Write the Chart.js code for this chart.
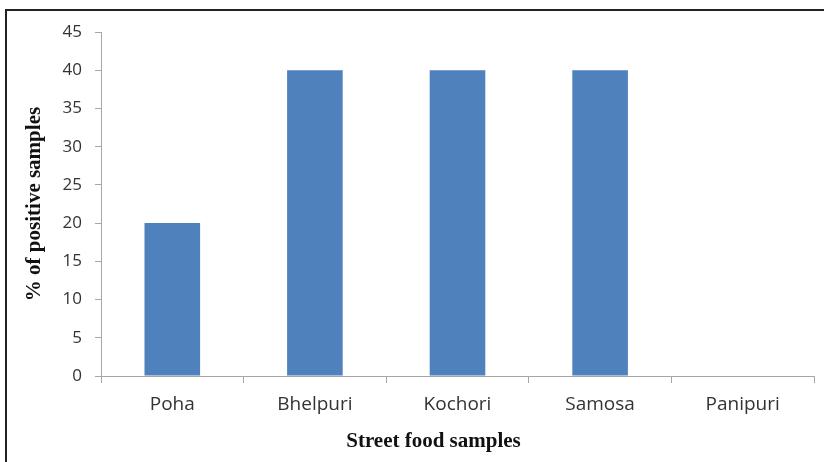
<!DOCTYPE html>
<html>
<head>
<meta charset="utf-8">
<script src="https://cdn.jsdelivr.net/npm/chart.js@4.4.1/dist/chart.umd.min.js"></script>
<style>
  html, body { margin: 0; padding: 0; background: #fff; }
  #frame {
    position: absolute; left: 5px; top: 9px; width: 900px; height: 500px;
    border-top: 2px solid #222; border-left: 2px solid #222;
  }
  #wrap { position: absolute; left: 0; top: 0; width: 824px; height: 462px; }
</style>
</head>
<body>
<div id="frame"></div>
<div id="wrap"><canvas id="chart" width="824" height="462"></canvas></div>
<script>
// Share of positive samples per street food item
const categories = ['Poha', 'Bhelpuri', 'Kochori', 'Samosa', 'Panipuri'];
const positivePercent = [20, 40, 40, 40, 0];
const yTicks = [0, 5, 10, 15, 20, 25, 30, 35, 40, 45];

const axisColor = '#a6a6a6';
const yTickFont = { family: 'Open Sans', size: 17 };
const xTickFont = { family: 'Open Sans', size: 19 };
const titleFont = { family: 'Liberation Serif', size: 21, weight: 'bold' };

new Chart(document.getElementById('chart'), {
  type: 'bar',
  data: {
    labels: categories,
    datasets: [{
      data: positivePercent,
      backgroundColor: '#4f81bd',
      borderWidth: 0,
      categoryPercentage: 1.0,
      barPercentage: 0.39
    }]
  },
  options: {
    responsive: false,
    animation: false,
    layout: { padding: { top: 32, right: 10, left: 0, bottom: 0 } },
    plugins: { legend: { display: false }, tooltip: { enabled: false } },
    scales: {
      x: {
        grid: { offset: true, drawOnChartArea: false, drawTicks: true, tickLength: 7, color: axisColor },
        border: { color: axisColor, width: 1 },
        ticks: { color: '#333', font: xTickFont, padding: 10 },
        title: { display: true, text: 'Street food samples', color: '#111', font: titleFont, padding: { top: 0, bottom: 8 } },
        afterFit(scale) {
          scale.height = 86;
          // the axis title sits a little left of the plot centre
          if (!scale._titleShifted) {
            const drawTitle = scale.drawTitle;
            scale.drawTitle = function () {
              this.ctx.save();
              this.ctx.translate(-24, 0);
              drawTitle.apply(this, arguments);
              this.ctx.restore();
            };
            scale._titleShifted = true;
          }
        }
      },
      y: {
        min: 0, max: 45,
        afterBuildTicks(scale) { scale.ticks = yTicks.map(v => ({ value: v })); },
        grid: { drawOnChartArea: false, drawTicks: true, tickLength: 6, color: axisColor },
        border: { color: axisColor, width: 1 },
        ticks: { color: '#333', font: yTickFont, padding: 13 },
        title: { display: true, text: '% of positive samples', color: '#111', font: titleFont, padding: { top: 22, bottom: 0 } },
        afterFit(scale) { scale.width = 101; }
      }
    }
  }
});
</script>
</body>
</html>
